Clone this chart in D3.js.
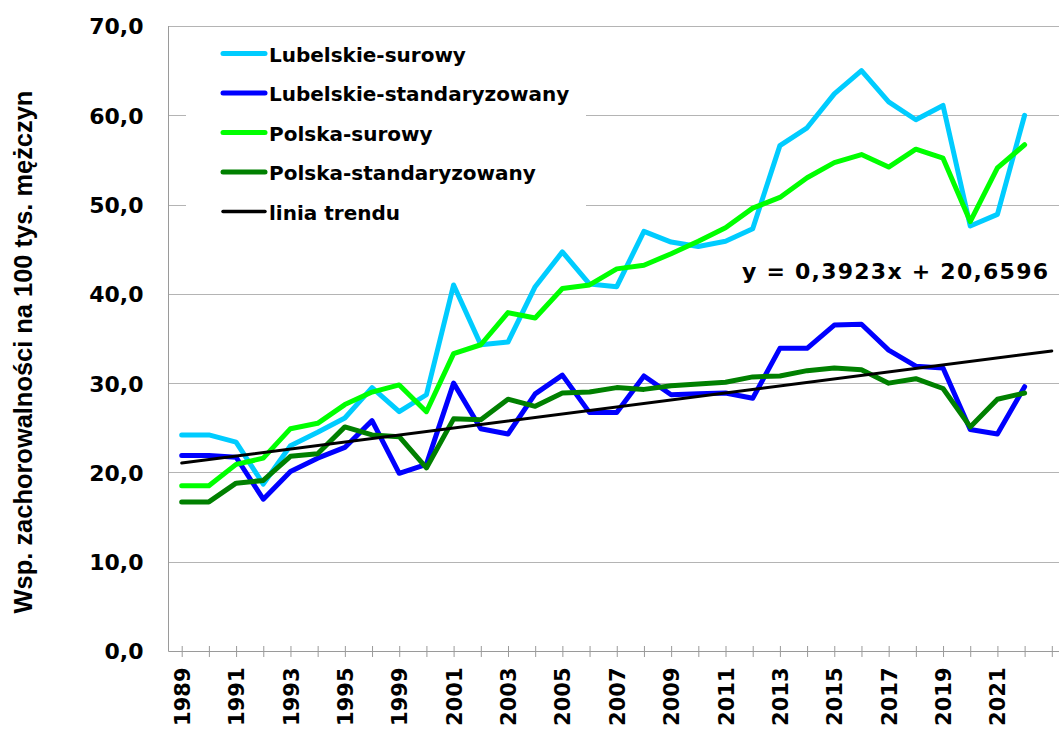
<!DOCTYPE html>
<html>
<head>
<meta charset="utf-8">
<script src="https://cdn.jsdelivr.net/npm/d3@7"></script>
<style>
  body { margin: 0; background: #fff; }
  svg { display: block; font-family: "DejaVu Sans", Verdana, sans-serif; }
</style>
</head>
<body>
<div id="chart"></div>
<script>
// categories (last one is an empty slot the trend line runs into)
let years = ['1989','1990','1991','1992','1993','1994','1995','1997','1999','2000','2001','2002','2003','2004','2005','2006','2007','2008','2009','2010','2011','2012','2013','2014','2015','2016','2017','2018','2019','2020','2021','2022','']

let lubSurowy = [24.2,24.2,23.4,18.7,23.0,24.5,26.1,29.5,26.8,28.7,41.0,34.3,34.6,40.8,44.7,41.1,40.8,47.0,45.8,45.3,45.9,47.3,56.6,58.6,62.4,65.0,61.5,59.5,61.1,47.6,48.9,60.0]
let lubStand = [21.9,21.9,21.7,17.0,20.1,21.6,22.8,25.8,19.9,20.9,30.0,24.9,24.3,28.8,30.9,26.7,26.7,30.8,28.7,28.8,28.9,28.3,33.9,33.9,36.5,36.6,33.7,31.9,31.7,24.8,24.3,29.6]
let polSurowy = [18.5,18.5,20.9,21.6,24.9,25.5,27.6,29.0,29.8,26.8,33.3,34.3,37.9,37.3,40.6,41.0,42.8,43.2,44.5,45.9,47.4,49.6,50.8,53.0,54.7,55.6,54.2,56.2,55.2,48.1,54.1,56.7]
let polStand = [16.7,16.7,18.8,19.1,21.8,22.1,25.1,24.2,24.0,20.5,26.0,25.9,28.2,27.4,28.9,29.0,29.5,29.3,29.7,29.9,30.1,30.7,30.8,31.4,31.7,31.5,30.0,30.5,29.4,25.1,28.2,28.9]

// linear trend as printed on the chart
let trendA = 0.3923
let trendB = 20.6596

let yTicks = [0,10,20,30,40,50,60,70]
let names = ['Lubelskie-surowy','Lubelskie-standaryzowany','Polska-surowy','Polska-standaryzowany','linia trendu']
let colors = ['#00ccff','#0000ff','#00ff00','#008000','#000000']

let w = 1059, h = 733
let plotLeft = 168.5, plotTop = 26, plotBottom = 651

let svg = d3.select('#chart').append('svg').attr('width', w).attr('height', h)

let xScale = d3.scalePoint().domain(years).range([181.7, 1051.8])
let yScale = d3.scaleLinear().domain([0, 70]).range([plotBottom, plotTop])

// grid
svg.append('g').selectAll('line').data(yTicks.slice(1)).enter().append('line')
  .attr('x1', plotLeft).attr('x2', w)
  .attr('y1', d => Math.round(yScale(d)) + 0.5).attr('y2', d => Math.round(yScale(d)) + 0.5)
  .attr('stroke', '#b4b4b4').attr('stroke-width', 1)

// y labels
let yAxis = d3.axisLeft(yScale).tickValues(yTicks).tickSize(0).tickPadding(0)
  .tickFormat(d => d3.format('.1f')(d).replace('.', ','))
let gy = svg.append('g').attr('transform', 'translate(143.5,0)').call(yAxis)
gy.select('.domain').remove()
gy.selectAll('text').attr('font-family', '"DejaVu Sans", Verdana, sans-serif')
  .attr('font-size', 22).attr('font-weight', 'bold').attr('fill', '#000').attr('dy', '0.36em')

// axis lines
svg.append('line').attr('x1', plotLeft).attr('x2', plotLeft).attr('y1', plotTop).attr('y2', plotBottom + 0.5)
  .attr('stroke', '#9a9a9a').attr('stroke-width', 1)
svg.append('line').attr('x1', plotLeft).attr('x2', w).attr('y1', plotBottom + 0.5).attr('y2', plotBottom + 0.5)
  .attr('stroke', '#9a9a9a').attr('stroke-width', 1)

// x axis
let xAxis = d3.axisBottom(xScale).tickSize(0).tickFormat((d, i) => i % 2 === 0 ? d : '')
let gx = svg.append('g').attr('transform', 'translate(0,' + (plotBottom + 0.5) + ')').call(xAxis)
gx.select('.domain').remove()
gx.selectAll('.tick line').attr('y1', -5.5).attr('y2', 5.5).attr('stroke', '#9a9a9a')
gx.selectAll('.tick text')
  .attr('font-family', '"DejaVu Sans", Verdana, sans-serif')
  .attr('font-size', 21).attr('font-weight', 'bold').attr('fill', '#000')
  .attr('text-anchor', 'end').attr('transform', 'rotate(-90)')
  .attr('x', -16).attr('y', 0).attr('dy', '0.36em')

// y title
let yt = svg.append('text').text('Wsp. zachorowalności na 100 tys. mężczyn')
  .attr('font-family', '"Liberation Sans", Arial, sans-serif').attr('font-weight', 'bold')
  .attr('font-size', 20).attr('text-anchor', 'middle')
  .attr('transform', 'translate(32,352) rotate(-90)')
let tl = yt.node().getComputedTextLength()
yt.attr('font-size', 20 * 523 / tl)

// legend
svg.append('rect').attr('x', 186).attr('y', 30).attr('width', 400).attr('height', 202).attr('fill', '#fff')
let leg = svg.append('g')
names.forEach((n, i) => {
  let ly = 53.5 + i * 39.5
  leg.append('line').attr('x1', 223).attr('x2', 265).attr('y1', ly).attr('y2', ly)
    .attr('stroke', colors[i]).attr('stroke-width', i === 4 ? 3.5 : 5).attr('stroke-linecap', 'round')
  leg.append('text').text(n).attr('x', 269).attr('y', ly + 8)
    .attr('font-size', 20).attr('font-weight', 'bold').attr('fill', '#000')
})

// series
let series = [lubSurowy, lubStand, polSurowy, polStand]
let line = d3.line().x((d, i) => xScale(years[i])).y(d => yScale(d))
series.forEach((s, i) => {
  svg.append('path').datum(s).attr('d', line).attr('fill', 'none')
    .attr('stroke', colors[i]).attr('stroke-width', 5)
    .attr('stroke-linejoin', 'round').attr('stroke-linecap', 'round')
})

// trend line
let trendEnds = [0, years.length - 1]
svg.append('line')
  .attr('x1', xScale(years[trendEnds[0]])).attr('y1', yScale(trendA * (trendEnds[0] + 1) + trendB))
  .attr('x2', xScale(years[trendEnds[1]])).attr('y2', yScale(trendA * (trendEnds[1] + 1) + trendB))
  .attr('stroke', '#000').attr('stroke-width', 3).attr('stroke-linecap', 'round')

// equation
svg.append('text').text('y = 0,3923x + 20,6596')
  .attr('x', 742).attr('y', 279).attr('font-size', 22).attr('font-weight', 'bold')
  .attr('textLength', 306).attr('lengthAdjust', 'spacing').style('white-space', 'pre')
</script>
</body>
</html>
